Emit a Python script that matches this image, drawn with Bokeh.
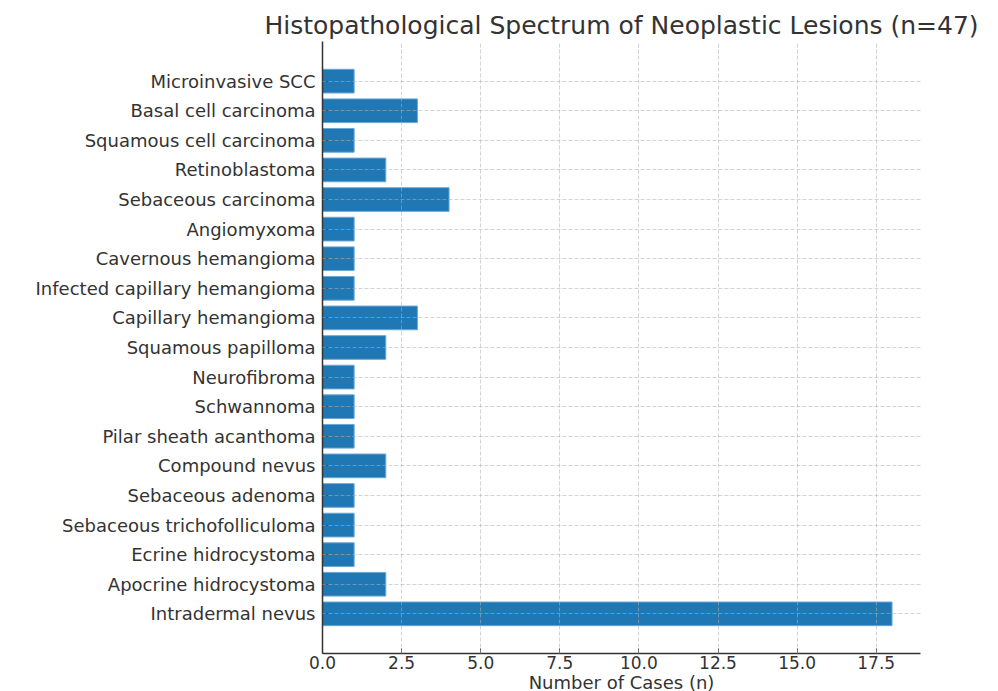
from bokeh.plotting import figure
from bokeh.models import Range1d, FixedTicker, NumeralTickFormatter
from bokeh.embed import file_html
from bokeh.resources import INLINE

# Data (bottom to top)
categories = [
    "Intradermal nevus", "Apocrine hidrocystoma", "Ecrine hidrocystoma",
    "Sebaceous trichofolliculoma", "Sebaceous adenoma", "Compound nevus",
    "Pilar sheath acanthoma", "Schwannoma", "Neurofibroma", "Squamous papilloma",
    "Capillary hemangioma", "Infected capillary hemangioma", "Cavernous hemangioma",
    "Angiomyxoma", "Sebaceous carcinoma", "Retinoblastoma",
    "Squamous cell carcinoma", "Basal cell carcinoma", "Microinvasive SCC",
]
counts = [18, 2, 1, 1, 1, 2, 1, 1, 1, 2, 3, 1, 1, 1, 4, 2, 1, 3, 1]
x_ticks = [0, 2.5, 5, 7.5, 10, 12.5, 15, 17.5]

positions = list(range(len(categories)))
FONT = "DejaVu Sans"
TXT = "#333333"

p = figure(
    output_backend="svg", toolbar_location=None,
    frame_width=598, frame_height=612,
    x_range=Range1d(0, 18.9), y_range=Range1d(-1.34, len(categories) - 1 + 1.34),
    min_border_left=322, min_border_right=70, min_border_top=41, min_border_bottom=0,
    title="Histopathological Spectrum of Neoplastic Lesions (n=47)",
)
p.hbar(y=positions, right=counts, left=0, height=0.8,
       fill_color="#1f77b4", line_color="#6aa6d6", line_width=1)

p.outline_line_color = None
p.background_fill_color = "white"
p.border_fill_color = "white"

p.title.align = "center"
p.title.text_font = FONT
p.title.text_font_size = "25px"
p.title.text_font_style = "normal"
p.title.text_color = TXT
p.title.standoff = 4

for ax in (p.xaxis, p.yaxis):
    ax.axis_line_color = TXT
    ax.axis_line_width = 1.5
    ax.major_tick_line_color = TXT
    ax.major_tick_in = 5
    ax.major_tick_out = 0
    ax.minor_tick_line_color = None
    ax.major_label_text_font = FONT
    ax.major_label_text_color = TXT

p.xaxis.ticker = FixedTicker(ticks=x_ticks)
p.xaxis.formatter = NumeralTickFormatter(format="0.0")
p.xaxis.major_label_text_font_size = "17px"
p.xaxis.major_label_standoff = 2
p.xaxis.axis_label = "Number of Cases (n)"
p.xaxis.axis_label_text_font = FONT
p.xaxis.axis_label_text_font_size = "18px"
p.xaxis.axis_label_text_font_style = "normal"
p.xaxis.axis_label_text_color = TXT
p.xaxis.axis_label_standoff = 0

p.yaxis.ticker = FixedTicker(ticks=positions)
p.yaxis.major_label_overrides = {i: c for i, c in zip(positions, categories)}
p.yaxis.major_label_text_font_size = "18px"
p.yaxis.major_label_standoff = 7

for g in (p.xgrid, p.ygrid):
    g.grid_line_color = "#b0b0b0"
    g.grid_line_alpha = 0.7
    g.grid_line_dash = "4 2"
    g.grid_line_width = 0.8
    g.level = "annotation"
p.ygrid.ticker = FixedTicker(ticks=positions)
p.xgrid.ticker = FixedTicker(ticks=x_ticks)

open("out.html", "w").write(file_html(p, INLINE))
